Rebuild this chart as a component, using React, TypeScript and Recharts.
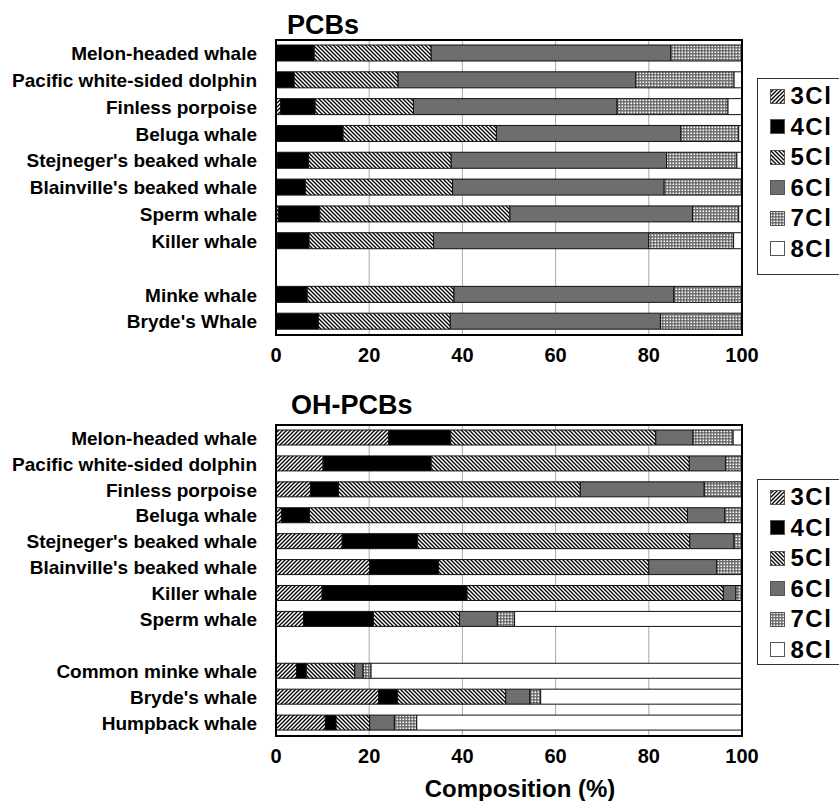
import React from "react";
import { BarChart, Bar, XAxis, YAxis, CartesianGrid } from "recharts";

const FONT = '"Liberation Sans", Arial, Helvetica, sans-serif';

// PCBs panel (empty string = spacer row)
const pcbSpecies = [
  "Melon-headed whale",
  "Pacific white-sided dolphin",
  "Finless porpoise",
  "Beluga whale",
  "Stejneger's beaked whale",
  "Blainville's beaked whale",
  "Sperm whale",
  "Killer whale",
  "",
  "Minke whale",
  "Bryde's Whale",
];
const pcb3 = [0, 0, 1.0, 0, 0.3, 0, 0.5, 0.3, 0, 0, 0];
const pcb4 = [8.2, 3.9, 7.4, 14.4, 6.7, 6.3, 8.9, 6.8, 0, 6.7, 9.1];
const pcb5 = [25.1, 22.3, 21.1, 32.9, 30.6, 31.6, 40.8, 26.7, 0, 31.5, 28.3];
const pcb6 = [51.4, 51.0, 43.7, 39.6, 46.2, 45.4, 39.2, 46.2, 0, 47.2, 45.1];
const pcb7 = [15.3, 21.1, 23.8, 12.4, 15.1, 16.7, 9.9, 18.2, 0, 14.6, 17.5];
const pcb8 = [0, 1.7, 3.0, 0.7, 1.1, 0, 0.7, 1.8, 0, 0, 0];

// OH-PCBs panel
const ohSpecies = [
  "Melon-headed whale",
  "Pacific white-sided dolphin",
  "Finless porpoise",
  "Beluga whale",
  "Stejneger's beaked whale",
  "Blainville's beaked whale",
  "Killer whale",
  "Sperm whale",
  "",
  "Common minke whale",
  "Bryde's whale",
  "Humpback whale",
];
const oh3 = [24.2, 10.1, 7.4, 1.2, 14.2, 20.1, 9.9, 5.9, 0, 4.4, 22.0, 10.6];
const oh4 = [13.3, 23.2, 6.0, 6.0, 16.2, 14.8, 31.1, 15.0, 0, 2.1, 4.1, 2.3];
const oh5 = [44.0, 55.4, 51.9, 81.1, 58.4, 45.1, 55.0, 18.5, 0, 10.4, 23.2, 7.2];
const oh6 = [8.0, 7.8, 26.6, 8.0, 9.5, 14.6, 2.7, 8.1, 0, 1.8, 5.2, 5.3];
const oh7 = [8.6, 3.5, 8.1, 3.7, 1.7, 5.4, 1.3, 3.7, 0, 1.7, 2.3, 4.8];
const oh8 = [1.9, 0, 0, 0, 0, 0, 0, 48.8, 0, 79.6, 43.2, 69.8];

const xTicks = [0, 20, 40, 60, 80, 100];

const SERIES = [
  { key: "c3", label: "3Cl", fill: "url(#hatch3)" },
  { key: "c4", label: "4Cl", fill: "#000000" },
  { key: "c5", label: "5Cl", fill: "url(#hatch5)" },
  { key: "c6", label: "6Cl", fill: "#6e6e6e" },
  { key: "c7", label: "7Cl", fill: "url(#check7)" },
  { key: "c8", label: "8Cl", fill: "#ffffff" },
];

const buildRows = (names: string[], cols: number[][]) =>
  names.map((name, i) => ({
    name,
    c3: cols[0][i],
    c4: cols[1][i],
    c5: cols[2][i],
    c6: cols[3][i],
    c7: cols[4][i],
    c8: cols[5][i],
  }));

const pcbRows = buildRows(pcbSpecies, [pcb3, pcb4, pcb5, pcb6, pcb7, pcb8]);
const ohRows = buildRows(ohSpecies, [oh3, oh4, oh5, oh6, oh7, oh8]);

// chart geometry
const CHART_W = 839;
const YAXIS_W = 276;
const XAXIS_H = 30;
const MARGIN = { top: 40, right: 97, bottom: 15, left: 0 };

function Patterns() {
  return (
    <svg width={0} height={0} style={{ position: "absolute" }}>
      <defs>
        <pattern id="hatch3" patternUnits="userSpaceOnUse" width={4} height={4}>
          <rect width={4} height={4} fill="#fff" />
          <path
            d="M-1,1 L1,-1 M0,4 L4,0 M3,5 L5,3"
            stroke="#000"
            strokeWidth={1.3}
          />
        </pattern>
        <pattern id="hatch5" patternUnits="userSpaceOnUse" width={4} height={4}>
          <rect width={4} height={4} fill="#fff" />
          <path
            d="M-1,3 L1,5 M0,0 L4,4 M3,-1 L5,1"
            stroke="#000"
            strokeWidth={1.3}
          />
        </pattern>
        <pattern id="check7" patternUnits="userSpaceOnUse" width={3} height={3}>
          <rect width={3} height={3} fill="#6a6a6a" />
          <rect x={0.5} y={0.5} width={1.6} height={1.6} fill="#fff" />
        </pattern>
      </defs>
    </svg>
  );
}

function CompositionChart({
  rows,
  top,
  height,
  barSize,
}: {
  rows: ReturnType<typeof buildRows>;
  top: number;
  height: number;
  barSize: number;
}) {
  const plotW = CHART_W - YAXIS_W - MARGIN.left - MARGIN.right;
  const plotH = height - MARGIN.top - MARGIN.bottom - XAXIS_H;
  return (
    <div style={{ position: "absolute", left: 0, top }}>
      <BarChart
        width={CHART_W}
        height={height}
        data={rows}
        layout="vertical"
        barSize={barSize}
        margin={MARGIN}
      >
        <CartesianGrid horizontal={false} stroke="#a8a8a8" strokeWidth={1} />
        <XAxis
          type="number"
          domain={[0, 100]}
          ticks={xTicks}
          interval={0}
          axisLine={false}
          tickLine={false}
          tickSize={0}
          tickMargin={13}
          height={XAXIS_H}
          tick={{ fontFamily: FONT, fontSize: 20, fontWeight: 700, fill: "#000" }}
        />
        <YAxis
          type="category"
          dataKey="name"
          width={YAXIS_W}
          interval={0}
          axisLine={false}
          tickLine={false}
          tickSize={0}
          tickMargin={19}
          tick={{ fontFamily: FONT, fontSize: 19, fontWeight: 700, fill: "#000" }}
        />
        {SERIES.map((s) => (
          <Bar
            key={s.key}
            dataKey={s.key}
            stackId="a"
            fill={s.fill}
            stroke="#111"
            strokeWidth={1}
            isAnimationActive={false}
          />
        ))}
      </BarChart>
      {/* plot frame */}
      <div
        style={{
          position: "absolute",
          left: MARGIN.left + YAXIS_W - 1.25,
          top: MARGIN.top - 1.25,
          width: plotW + 2.5,
          height: plotH + 2.5,
          border: "2.5px solid #000",
          boxSizing: "border-box",
          pointerEvents: "none",
        }}
      />
    </div>
  );
}

function LegendBox({ top, height }: { top: number; height: number }) {
  return (
    <div
      style={{
        position: "absolute",
        left: 757,
        top,
        width: 110,
        height,
        border: "1.5px solid #333",
        boxSizing: "border-box",
        background: "#fff",
      }}
    >
      {SERIES.map((s, i) => (
        <div
          key={s.key}
          style={{
            position: "absolute",
            left: 11.5,
            top: 17 - 12 + i * 30.5,
            height: 24,
            display: "flex",
            alignItems: "center",
          }}
        >
          <svg width={15} height={15}>
            <rect
              x={0.5}
              y={0.5}
              width={14}
              height={14}
              fill={s.fill}
              stroke="#555"
              strokeWidth={1}
            />
          </svg>
          <span
            style={{
              marginLeft: 6,
              fontFamily: FONT,
              fontSize: 24,
              fontWeight: 700,
              letterSpacing: 1.5,
              lineHeight: "24px",
              color: "#000",
            }}
          >
            {s.label}
          </span>
        </div>
      ))}
    </div>
  );
}

const titleStyle: React.CSSProperties = {
  position: "absolute",
  fontFamily: FONT,
  fontSize: 27,
  fontWeight: 700,
  lineHeight: "27px",
  color: "#000",
  whiteSpace: "nowrap",
};

export default function App() {
  return (
    <div
      style={{
        position: "absolute",
        left: 0,
        top: 0,
        width: 839,
        height: 801,
        overflow: "hidden",
        background: "#fff",
      }}
    >
      <Patterns />
      <div style={{ ...titleStyle, left: 287, top: 12 }}>PCBs</div>
      <CompositionChart rows={pcbRows} top={0} height={380} barSize={16} />
      <LegendBox top={78} height={197} />

      <div style={{ ...titleStyle, left: 291, top: 392 }}>OH-PCBs</div>
      <CompositionChart rows={ohRows} top={385} height={396} barSize={15} />
      <LegendBox top={479} height={186} />

      <div
        style={{
          position: "absolute",
          left: 400,
          width: 240,
          top: 777,
          textAlign: "center",
          fontFamily: FONT,
          fontSize: 24,
          fontWeight: 700,
          lineHeight: "24px",
          color: "#000",
        }}
      >
        Composition (%)
      </div>
    </div>
  );
}
